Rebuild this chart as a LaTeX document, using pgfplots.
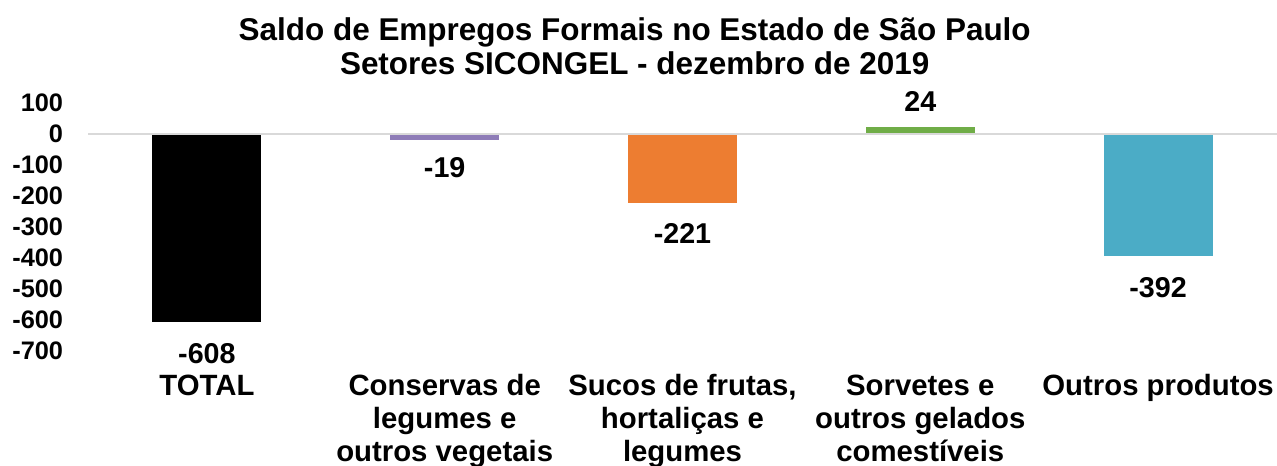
\documentclass[border=0pt]{standalone}
\usepackage{fontspec}
\setmainfont{Liberation Sans}
\usepackage{pgfplots}
\pgfplotsset{compat=1.18}
\definecolor{cblack}{RGB}{0,0,0}
\definecolor{cpurple}{RGB}{142,124,183}
\definecolor{corange}{RGB}{237,125,49}
\definecolor{cgreen}{RGB}{112,173,71}
\definecolor{cteal}{RGB}{75,172,198}
\definecolor{zline}{RGB}{217,217,217}
\begin{document}
\begin{tikzpicture}
\path[use as bounding box] (0,0) rectangle (957.75pt,349.5pt);
\node[font=\fontsize{23.6}{25.5}\selectfont\bfseries, align=center] at (476pt,315pt)
  {Saldo de Empregos Formais no Estado de São Paulo\\Setores SICONGEL - dezembro de 2019};
\begin{axis}[
  at={(66pt,86.25pt)}, anchor=south west,
  scale only axis, width=891.75pt, height=186pt,
  xmin=-0.5, xmax=4.5, ymin=-700, ymax=100,
  ybar, bar width=81.75pt, bar shift=0pt,
  axis line style={draw=none},
  major tick length=0pt,
  ytick={-700,-600,...,100},
  xtick={0,1,2,3,4},
  xticklabels={TOTAL, Conservas de\\legumes e\\outros vegetais, {Sucos de frutas,\\hortaliças e\\legumes}, Sorvetes e\\outros gelados\\comestíveis, Outros produtos},
  /pgf/number format/assume math mode=true,
  yticklabel style={font=\fontsize{19}{22}\selectfont\bfseries, inner sep=0pt, anchor=east, xshift=-18.5pt},
  xticklabel style={font=\fontsize{22}{24.75}\selectfont\bfseries, inner sep=0pt, anchor=north, yshift=-17.5pt, align=center},
  clip=false,
  nodes near coords,
  every node near coord/.append style={font=\fontsize{21.5}{24}\selectfont\bfseries, anchor=center, /pgf/number format/assume math mode=true},
]
\addplot[fill=cblack, draw=none, nodes near coords style={yshift=-23.6pt}] coordinates {(0,-608)};
\addplot[fill=cpurple, draw=none, nodes near coords style={yshift=-21pt}] coordinates {(1,-19)};
\addplot[fill=corange, draw=none, nodes near coords style={yshift=-23.3pt}] coordinates {(2,-221)};
\addplot[fill=cgreen, draw=none, nodes near coords style={yshift=19pt}] coordinates {(3,24)};
\addplot[fill=cteal, draw=none, nodes near coords style={yshift=-24pt}] coordinates {(4,-392)};
\draw[zline, line width=1.5pt] (axis cs:-0.5,0) -- (axis cs:4.5,0);
\end{axis}
\end{tikzpicture}
\end{document}
